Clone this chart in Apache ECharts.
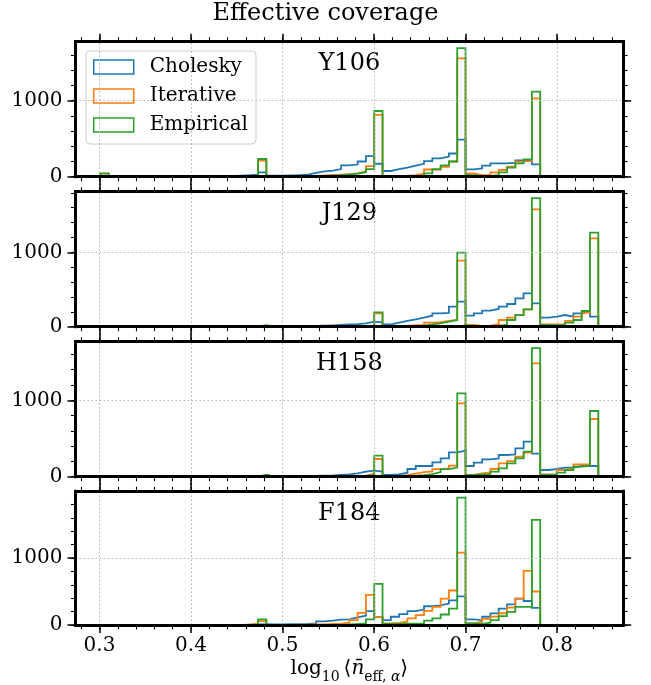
<!DOCTYPE html>
<html><head><meta charset="utf-8">
<script src="https://cdn.jsdelivr.net/npm/echarts@6/dist/echarts.min.js"></script>
<style>html,body{margin:0;padding:0;background:#fff}#c{width:651px;height:685px}</style>
</head><body><div id="c"></div>
<script>
// ---------------- data ----------------
const panelNames = ['Y106', 'J129', 'H158', 'F184'];
const seriesNames = ['Cholesky', 'Iterative', 'Empirical'];
const seriesColors = ['#1f77b4', '#ff7f0e', '#2ca02c'];
const binStart = 0.30103;   // log10(2)
const binEnd = 0.845098;    // log10(7)
const nBins = 60;
const xMajorTicks = [0.3, 0.4, 0.5, 0.6, 0.7, 0.8];
const xMinorTicks = [0.28, 0.30, 0.32, 0.34, 0.36, 0.38, 0.40, 0.42, 0.44, 0.46, 0.48, 0.50, 0.52, 0.54, 0.56, 0.58, 0.60, 0.62, 0.64, 0.66, 0.68, 0.70, 0.72, 0.74, 0.76, 0.78, 0.80, 0.82, 0.84, 0.86];
const yMajorTicks = [0, 1000];
const yMinorTicks = [0, 200, 400, 600, 800, 1000, 1200, 1400, 1600, 1800];

const Y106_cholesky = [5,0,0,0,0,0,0,0,0,0, 0,0,0,8,10,12,15,20,28,58, 15,15,18,22,28,50,70,80,100,150, 160,200,270,170,75,100,120,145,170,205, 240,265,305,487,97,110,145,175,175,185, 215,220,163,0,0,0,0,0,0,0];
const Y106_iterative = [40,0,0,0,0,0,0,0,0,0, 0,0,0,0,0,0,0,3,8,211, 0,0,2,5,8,12,18,22,28,35, 45,70,140,812,5,5,10,20,40,95, 90,130,200,1557,44,22,25,57,88,132, 198,206,1031,0,0,0,0,0,0,0];
const Y106_empirical = [45,0,0,0,0,0,0,0,0,0, 0,0,0,0,0,0,0,2,5,233, 0,0,1,3,5,8,10,14,20,30, 40,60,100,864,2,3,5,10,15,45, 100,150,200,1691,22,10,10,22,57,119, 176,229,1119,0,0,0,0,0,0,0];

const J129_cholesky = [0,0,0,0,0,0,0,0,0,0, 0,0,0,0,0,0,0,0,3,10, 3,4,5,6,8,10,14,18,24,32, 35,45,68,59,32,54,77,99,122,148, 180,185,269,337,148,180,216,238,269,305, 381,448,314,122,135,157,135,180,202,135];
const J129_iterative = [0,0,0,0,0,0,0,0,0,0, 0,0,0,0,0,0,0,0,0,15, 0,0,0,0,0,0,0,0,0,2, 3,5,8,180,2,3,10,20,25,54, 60,77,90,888,23,10,15,36,90,122, 157,233,1578,32,30,32,77,135,189,1188];
const J129_empirical = [0,0,0,0,0,0,0,0,0,0, 0,0,0,0,0,0,0,0,0,19, 0,0,0,0,0,0,0,0,0,0, 0,0,5,193,1,2,5,10,15,32, 45,68,90,995,14,5,8,14,23,90, 157,233,1729,23,20,23,54,90,211,1264];

const H158_cholesky = [0,0,0,0,0,0,0,0,0,0, 0,0,0,0,0,0,0,0,3,6, 3,5,6,8,10,12,15,18,25,30, 44,66,79,66,22,31,53,101,140,140, 188,240,319,341,140,184,227,240,284,293, 371,459,301,88,101,118,118,140,140,140];
const H158_iterative = [0,0,0,0,0,0,0,0,0,0, 0,0,0,0,0,0,0,0,0,20, 0,0,0,0,0,0,0,0,0,2, 5,15,40,232,3,5,20,40,60,70, 100,110,145,960,22,44,57,101,175,205, 262,314,1484,31,31,88,110,162,162,755];
const H158_empirical = [0,0,0,0,0,0,0,0,0,0, 0,0,0,0,0,0,0,0,0,26, 0,0,0,0,0,0,0,0,0,1, 3,10,20,275,2,3,5,10,20,35, 60,100,120,1091,22,31,35,66,110,175, 240,327,1683,22,22,53,88,131,140,860];

const F184_cholesky = [0,0,0,0,0,0,0,0,0,0, 0,0,0,0,0,0,0,5,8,12, 10,10,12,14,15,25,55,65,80,84, 113,138,206,118,74,123,162,206,231,280, 294,319,368,427,84,74,123,172,245,309, 393,358,255,0,0,0,0,0,0,0];
const F184_iterative = [0,0,0,0,0,0,0,0,0,0, 0,0,0,0,0,0,0,5,20,59, 3,2,3,4,5,8,10,15,20,35, 74,182,451,120,25,30,49,98,147,211, 270,393,515,1079,25,50,90,125,175,260, 393,809,500,0,0,0,0,0,0,0];
const F184_empirical = [0,0,0,0,0,0,0,0,0,0, 0,0,0,0,0,0,0,0,5,84, 0,0,0,0,0,0,0,0,0,10, 15,25,84,613,15,15,20,22,25,64, 98,157,245,1900,25,15,35,74,133,196, 270,270,1569,0,0,0,0,0,0,0];

const panelData = [
  [Y106_cholesky, Y106_iterative, Y106_empirical],
  [J129_cholesky, J129_iterative, J129_empirical],
  [H158_cholesky, H158_iterative, H158_empirical],
  [F184_cholesky, F184_iterative, F184_empirical]
];

// ---------------- layout ----------------
const FONT = 'DejaVu Serif';
const gridLeft = 75.5, gridWidth = 547.7, gridHeight = 135;
const gridTops = [41.7, 191.7, 341.7, 491.3];

const binW = (binEnd - binStart) / nBins;
const edges = [];
for (let k = 0; k <= nBins; k++) edges.push(binStart + k * binW);
const span = binEnd - binStart;
const xMin = binStart - 0.05 * span, xMax = binEnd + 0.05 * span;

function stepPoints(counts) {
  const pts = [[edges[0], 0]];
  for (let k = 0; k < counts.length; k++) {
    pts.push([edges[k], counts[k]]);
    pts.push([edges[k + 1], counts[k]]);
  }
  pts.push([edges[counts.length], 0]);
  return pts;
}

const grids = [], xAxes = [], yAxes = [], series = [], graphics = [];

// legend proxies
seriesNames.forEach((n, j) => {
  series.push({
    type: 'bar', name: n, data: [], xAxisIndex: 0, yAxisIndex: 0,
    itemStyle: { color: 'rgba(0,0,0,0)', borderColor: seriesColors[j], borderWidth: 1.5 }
  });
});

panelData.forEach((sets, i) => {
  grids.push({ left: gridLeft, top: gridTops[i], width: gridWidth, height: gridHeight, containLabel: false });
  let m = 0;
  sets.forEach(s => s.forEach(v => { if (v > m) m = v; }));
  const yMax = m * 1.05;
  const isLast = i === panelData.length - 1;

  const lineStyleAxis = { color: '#000', width: 3, cap: 'square' };
  const mkX = (pos, major) => ({
    type: 'value', gridIndex: i, position: pos, min: xMin, max: xMax, z: 10,
    axisLine: { show: major, onZero: false, lineStyle: lineStyleAxis },
    axisTick: { show: true, customValues: major ? xMajorTicks : xMinorTicks, length: major ? 8 : 4.5,
                lineStyle: { color: '#000', width: major ? 1.5 : 1.1 } },
    axisLabel: (major && pos === 'bottom' && isLast) ? {
      show: true, customValues: xMajorTicks, formatter: v => v.toFixed(1),
      color: '#000', fontFamily: FONT, fontSize: 20, margin: 11
    } : { show: false },
    splitLine: { show: false }
  });
  const xa = mkX('bottom', true);
  if (isLast) {
    xa.name = '{r|log}{s|10}{r|\u2009\u27E8}{i|n\u0304}{s|eff, }{si|\u03B1}{r|\u27E9}';
    xa.nameLocation = 'middle';
    xa.nameGap = 34;
    xa.nameTextStyle = {
      color: '#000', fontFamily: FONT, fontSize: 20,
      rich: {
        r: { fontFamily: FONT, fontSize: 20, color: '#000', lineHeight: 22, verticalAlign: 'top', padding: [0, 0, 4, 0] },
        i: { fontFamily: FONT, fontSize: 20, fontStyle: 'italic', color: '#000', lineHeight: 22, verticalAlign: 'top', padding: [0, 0, 4, 0] },
        s: { fontFamily: FONT, fontSize: 14, color: '#000', lineHeight: 14, verticalAlign: 'top', padding: [11, 0, 0, 0] },
        si: { fontFamily: FONT, fontSize: 14, fontStyle: 'italic', color: '#000', lineHeight: 14, verticalAlign: 'top', padding: [11, 0, 0, 0] }
      }
    };
  }
  xAxes.push(xa, mkX('bottom', false), mkX('top', true), mkX('top', false));

  const yMinorHere = yMinorTicks.filter(v => v <= yMax);
  const mkY = (pos, major) => ({
    type: 'value', gridIndex: i, position: pos, min: 0, max: yMax, z: 10,
    axisLine: { show: major, onZero: false, lineStyle: lineStyleAxis },
    axisTick: { show: true, customValues: major ? yMajorTicks : yMinorHere, length: major ? 8 : 4.5,
                lineStyle: { color: '#000', width: major ? 1.5 : 1.1 } },
    axisLabel: (major && pos === 'left') ? {
      show: true, customValues: yMajorTicks, formatter: v => String(v),
      color: '#000', fontFamily: FONT, fontSize: 20, margin: 13
    } : { show: false },
    splitLine: { show: false }
  });
  yAxes.push(mkY('left', true), mkY('left', false), mkY('right', true), mkY('right', false));

  const xi = i * 4, yi = i * 4;
  // grid lines
  series.push({
    type: 'line', name: 'grid' + i, xAxisIndex: xi, yAxisIndex: yi, z: 1,
    data: [[0.5, 0]], symbol: 'none', lineStyle: { width: 0 }, silent: true,
    markLine: {
      silent: true, symbol: ['none', 'none'], animation: false, label: { show: false },
      lineStyle: { color: '#b0b0b0', width: 1, type: [1.5, 2.5] },
      data: xMajorTicks.map(v => ({ xAxis: v })).concat(yMajorTicks.filter(v => v > 0).map(v => ({ yAxis: v })))
    }
  });
  sets.forEach((s, j) => {
    series.push({
      type: 'line', name: seriesNames[j], xAxisIndex: xi, yAxisIndex: yi, z: 2 + j,
      data: stepPoints(s), symbol: 'none', showSymbol: false,
      lineStyle: { color: seriesColors[j], width: 1.8, join: 'miter' },
      itemStyle: { color: seriesColors[j] }, silent: true
    });
  });
  graphics.push({
    type: 'text', x: gridLeft + gridWidth / 2, y: gridTops[i] + 22,
    style: { text: panelNames[i], textAlign: 'center', textVerticalAlign: 'middle',
             font: '24px "DejaVu Serif"', fill: '#000' }
  });
});

graphics.push({
  type: 'text', x: 325.5, y: 14,
  style: { text: 'Effective coverage', textAlign: 'center', textVerticalAlign: 'middle',
           font: '24px "DejaVu Serif"', fill: '#000' }
});

const chart = echarts.init(document.getElementById('c'), null, { renderer: 'canvas' });
chart.setOption({
  animation: false,
  backgroundColor: '#fff',
  grid: grids,
  xAxis: xAxes,
  yAxis: yAxes,
  legend: {
    data: seriesNames, orient: 'vertical', left: 86, top: 51,
    itemWidth: 40, itemHeight: 14, itemGap: 9, padding: [6, 8, 9, 7],
    backgroundColor: 'rgba(255,255,255,0.8)', borderColor: '#cccccc', borderWidth: 1, borderRadius: 4,
    icon: 'rect', selectedMode: false,
    itemStyle: { borderWidth: 1.5 },
    textStyle: { fontFamily: FONT, fontSize: 20, color: '#000', padding: [0, 0, 0, 11] }
  },
  graphic: graphics,
  series: series
});
</script>
</body></html>
